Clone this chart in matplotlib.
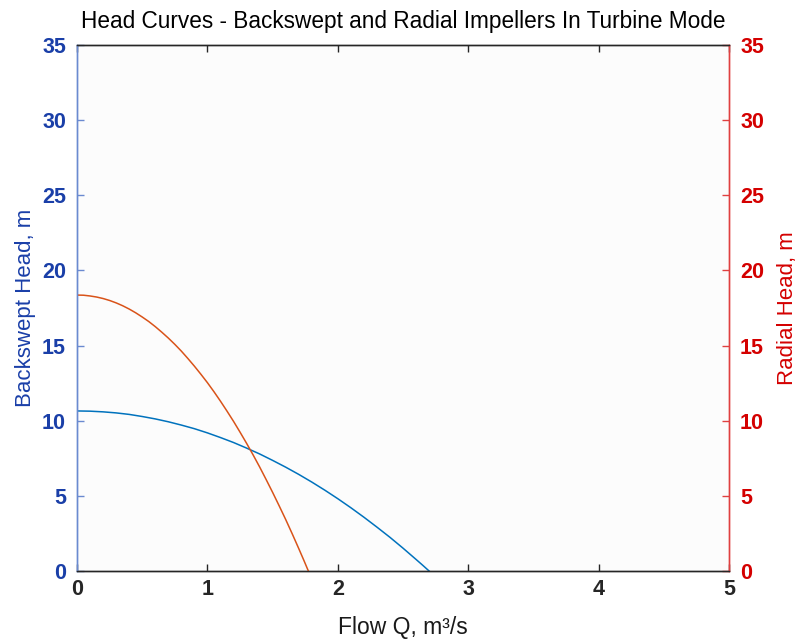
import matplotlib
matplotlib.use("Agg")
import matplotlib.pyplot as plt

# Backswept impeller head curve (turbine mode)
q_backswept = [0.0, 0.1, 0.2, 0.3, 0.4, 0.5, 0.6, 0.7, 0.8, 0.9, 1.0, 1.1, 1.2, 1.3, 1.4,
               1.5, 1.6, 1.7, 1.8, 1.9, 2.0, 2.1, 2.2, 2.3, 2.4, 2.5, 2.6, 2.65, 2.7]
h_backswept = [10.65, 10.635, 10.59, 10.52, 10.42, 10.28, 10.12, 9.93, 9.71, 9.47, 9.19, 8.88,
               8.55, 8.18, 7.79, 7.36, 6.91, 6.43, 5.92, 5.38, 4.81, 4.21, 3.58, 2.92, 2.24,
               1.52, 0.77, 0.39, 0.0]

# Radial impeller head curve (turbine mode)
q_radial = [0.0, 0.05, 0.1, 0.15, 0.2, 0.25, 0.3, 0.35, 0.4, 0.45, 0.5, 0.55, 0.6, 0.65, 0.7,
            0.75, 0.8, 0.85, 0.9, 0.95, 1.0, 1.05, 1.1, 1.15, 1.2, 1.25, 1.3, 1.35, 1.4,
            1.45, 1.5, 1.55, 1.6, 1.65, 1.7, 1.74, 1.774]
h_radial = [18.36, 18.35, 18.30, 18.23, 18.13, 18.00, 17.84, 17.65, 17.43, 17.18, 16.90, 16.60,
            16.26, 15.89, 15.50, 15.08, 14.63, 14.14, 13.63, 13.09, 12.53, 11.93, 11.30, 10.64,
            9.96, 9.24, 8.50, 7.73, 6.93, 6.09, 5.23, 4.34, 3.43, 2.48, 1.50, 0.70, 0.0]

x_ticks = [0, 1, 2, 3, 4, 5]
y_ticks = [0, 5, 10, 15, 20, 25, 30, 35]

plt.rcParams['font.family'] = ['Liberation Sans', 'DejaVu Sans']

left_label_color = '#1a3fa8'
left_spine_color = '#6a8ad0'
right_label_color = '#d40000'
right_spine_color = '#e04040'
line_blue = '#0072BD'
line_orange = '#D95319'

fig = plt.figure(figsize=(8.05, 6.39), dpi=100)
ax = fig.add_axes([0.0957, 0.1064, 0.8099, 0.8232])
ax.set_facecolor('#fcfcfc')
ax2 = ax.twinx()

ax.plot(q_backswept, h_backswept, color=line_blue, lw=1.1)
ax2.plot(q_radial, h_radial, color=line_orange, lw=1.1)

ax.set_xlim(0, 5)
ax.set_ylim(0, 35)
ax2.set_ylim(0, 35)
ax.set_xticks(x_ticks)
ax.set_yticks(y_ticks)
ax2.set_yticks(y_ticks)

ax.tick_params(axis='x', direction='in', length=5, width=1, colors='#262626',
               top=True, labelsize=15.5, pad=6)
ax.tick_params(axis='y', direction='in', length=5, width=1, color=left_spine_color,
               labelcolor=left_label_color, labelsize=15.5, pad=8)
ax2.tick_params(axis='y', direction='in', length=5, width=1, color=right_spine_color,
                labelcolor=right_label_color, labelsize=15.5, pad=8)
for lab in ax.get_xticklabels() + ax.get_yticklabels() + ax2.get_yticklabels():
    lab.set_fontweight('bold')

for a in (ax, ax2):
    a.spines['top'].set_color('#262626')
    a.spines['bottom'].set_color('#262626')
    a.spines['left'].set_color(left_spine_color)
    a.spines['right'].set_color(right_spine_color)
    for s in a.spines.values():
        s.set_linewidth(1.0)

ax.set_xlabel('Flow Q, m³/s', fontsize=16.5, color='#1a1a1a', labelpad=11)
ax.set_ylabel('Backswept Head, m', fontsize=16, color=left_label_color, labelpad=4)
ax2.set_ylabel('Radial Head, m', fontsize=16, color=right_label_color, labelpad=9)
ax.set_title('Head Curves - Backswept and Radial Impellers In Turbine Mode',
             fontsize=16.3, color='black', pad=12)

fig.savefig('out.png', dpi=100, facecolor='white')
